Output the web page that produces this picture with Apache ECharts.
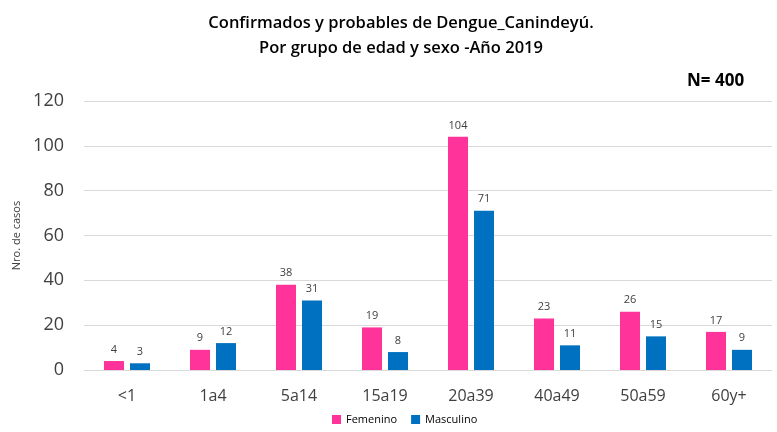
<!DOCTYPE html>
<html><head><meta charset="utf-8">
<script src="https://cdn.jsdelivr.net/npm/echarts@6/dist/echarts.min.js"></script>
<style>html,body{margin:0;padding:0;background:#fff}#c{width:777px;height:432px}</style>
</head><body><div id="c"></div>
<script>
const categories = ['<1','1a4','5a14','15a19','20a39','40a49','50a59','60y+'];
const femenino = [4,9,38,19,104,23,26,17];
const masculino = [3,12,31,8,71,11,15,9];
const yTicks = [0,20,40,60,80,100,120];
const chart = echarts.init(document.getElementById('c'));
const font = "'Open Sans', 'Noto Sans', sans-serif";
chart.setOption({
  animation:false,
  textStyle:{fontFamily:font},
  title:[{
    text:'Confirmados y probables de Dengue_Canindeyú.\nPor grupo de edad y sexo -Año 2019',
    left:396, textAlign:'center', top:6,
    textStyle:{fontSize:16.5, fontWeight:600, color:'#000', lineHeight:25, fontFamily:font}
  },{
    text:'N= 400', left:682, top:68,
    textStyle:{fontSize:17, fontWeight:'bold', color:'#000', fontFamily:font}
  }],
  legend:{
    bottom:2, left:327, itemWidth:9, itemHeight:9, itemGap:14,
    icon:'rect',
    textStyle:{fontSize:11, color:'#000', fontFamily:font},
    data:['Femenino','Masculino']
  },
  grid:{left:84, right:5, top:101, bottom:62},
  xAxis:{
    type:'category', data:categories,
    axisLine:{lineStyle:{color:'#d9d9d9'}},
    axisTick:{show:false},
    axisLabel:{fontSize:16, color:'#404040', margin:18, fontFamily:font}
  },
  yAxis:{
    type:'value', min:yTicks[0], max:yTicks[yTicks.length-1], interval:20,
    name:'Nro. de casos', nameLocation:'middle', nameGap:62, nameRotate:90,
    nameTextStyle:{fontSize:11, color:'#404040', fontFamily:font},
    axisLine:{show:false}, axisTick:{show:false},
    axisLabel:{fontSize:18, color:'#404040', margin:20, fontFamily:font},
    splitLine:{lineStyle:{color:'#d9d9d9'}}
  },
  series:[{
    name:'Femenino', type:'bar', data:femenino, barWidth:20, barGap:'30%',
    itemStyle:{color:'#FF3399'},
    label:{show:true, position:'top', fontSize:11, color:'#404040', distance:6}
  },{
    name:'Masculino', type:'bar', data:masculino, barWidth:20,
    itemStyle:{color:'#0070C0'},
    label:{show:true, position:'top', fontSize:11, color:'#404040', distance:6}
  }]
});
</script></body></html>
